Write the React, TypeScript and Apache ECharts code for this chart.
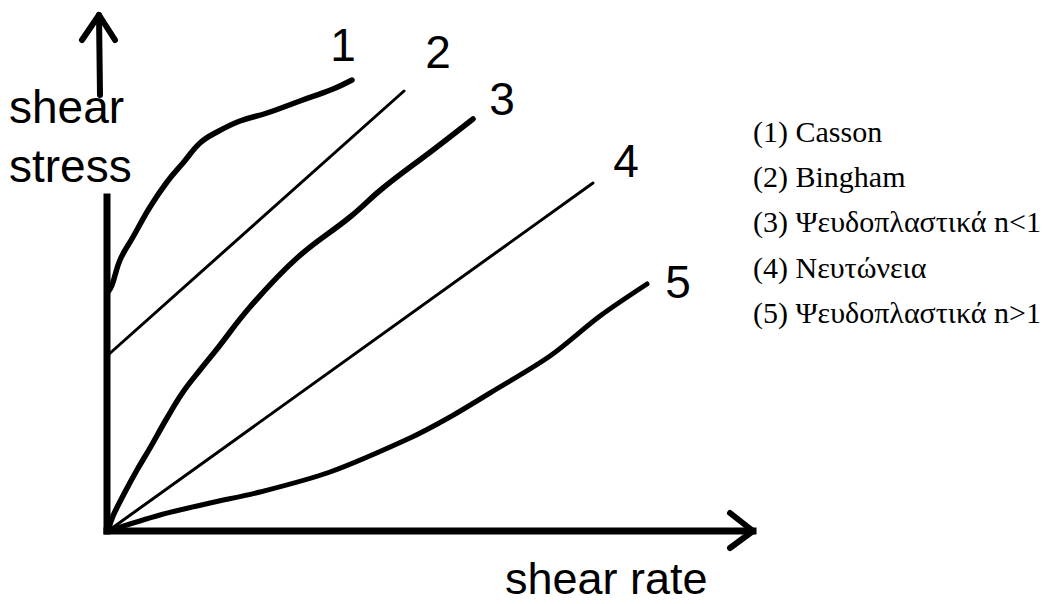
import React, { useEffect, useRef } from "react";
import * as echarts from "echarts";

// Curves (x = shear rate, y = shear stress)
const casson: [number, number][] = [
  [1, 239], [5, 246], [13, 271], [26, 294], [43, 324], [60, 349], [76, 368],
  [93, 388], [110, 399], [133, 410], [160, 418], [193, 430], [226, 442], [245, 451],
];
const bingham: [number, number][] = [[1, 176], [297, 440]];
const pseudoLess: [number, number][] = [
  [1, 0], [6, 15], [18, 39], [30, 61], [43, 83], [60, 113], [76, 139], [93, 161],
  [110, 182], [143, 224], [190, 273], [243, 314], [276, 343], [326, 381], [366, 412],
];
const newtonian: [number, number][] = [[1, 0], [486, 348]];
const pseudoMore: [number, number][] = [
  [1, 0], [53, 16], [103, 28], [153, 39], [223, 59], [303, 93], [343, 114],
  [383, 138], [443, 175], [493, 215], [540, 247],
];

// Axes drawn as arrows
const xAxisLine: [number, number][] = [[0, 0], [646, 0]];
const xArrowHead: [number, number][] = [[623, 18], [646, 0], [623, -17]];
const yAxisLine: [number, number][] = [[0, 0], [0, 334]];
const yArrowShaft: [number, number][] = [[-7, 436], [-8, 516]];
const yArrowHead: [number, number][] = [[-25, 491], [-8, 516], [8, 491]];

const curveLabels = ["1", "2", "3", "4", "5"];
const legendLabels = [
  "(1) Casson",
  "(2) Bingham",
  "(3) Ψευδοπλαστικά n<1",
  "(4) Νευτώνεια",
  "(5) Ψευδοπλαστικά n>1",
];
const yAxisTitle = ["shear", "stress"];
const xAxisTitle = "shear rate";

export default function App() {
  const ref = useRef<HTMLDivElement>(null);
  useEffect(() => {
    if (!ref.current) return;
    const chart = echarts.init(ref.current, null, { renderer: "svg" });
    const line = (data: [number, number][], width: number, smooth = 0, cap = "round") => ({
      type: "line",
      data,
      symbol: "none",
      smooth,
      clip: false,
      silent: true,
      lineStyle: { color: "#000", width, cap, join: "round" },
    });
    const sansText = (text: string, x: number, y: number, align = "left", size = 46) => ({
      type: "text",
      x,
      y,
      silent: true,
      style: {
        text,
        fill: "#000",
        font: `${size}px "Liberation Sans", Arial, sans-serif`,
        align,
        verticalAlign: "middle",
      },
    });
    const labelPos: [number, number][] = [[343, 45], [438, 52], [502, 99], [626, 161], [678, 282]];
    const legendY = [131, 176, 221, 267, 312];
    chart.setOption({
      animation: false,
      backgroundColor: "#fff",
      grid: { left: 67, top: 1, width: 700, height: 570 },
      xAxis: { type: "value", min: -40, max: 660, show: false },
      yAxis: { type: "value", min: -40, max: 530, show: false },
      series: [
        line(xAxisLine, 7, 0, "square"),
        line(yAxisLine, 7, 0, "square"),
        line(yArrowShaft, 6),
        line(yArrowHead, 6),
        line(xArrowHead, 6),
        line(casson, 5.5, 0.4),
        line(bingham, 3),
        line(pseudoLess, 5.5, 0.4),
        line(newtonian, 3),
        line(pseudoMore, 5, 0.3),
      ],
      graphic: [
        sansText(yAxisTitle[0], 9, 107),
        sansText(yAxisTitle[1], 9, 166),
        sansText(xAxisTitle, 505, 578, "left", 45),
        ...curveLabels.map((t, i) => sansText(t, labelPos[i][0], labelPos[i][1], "center")),
        ...legendLabels.map((t, i) => ({
          type: "text",
          x: 753,
          y: legendY[i],
          silent: true,
          style: {
            text: t,
            fill: "#000",
            font: '30px "Liberation Serif", "Times New Roman", serif',
            align: "left",
            verticalAlign: "middle",
          },
        })),
      ],
    });
    return () => chart.dispose();
  }, []);
  return (
    <div
      ref={ref}
      style={{ position: "absolute", left: 0, top: 0, width: 1063, height: 604, background: "#fff" }}
    />
  );
}
